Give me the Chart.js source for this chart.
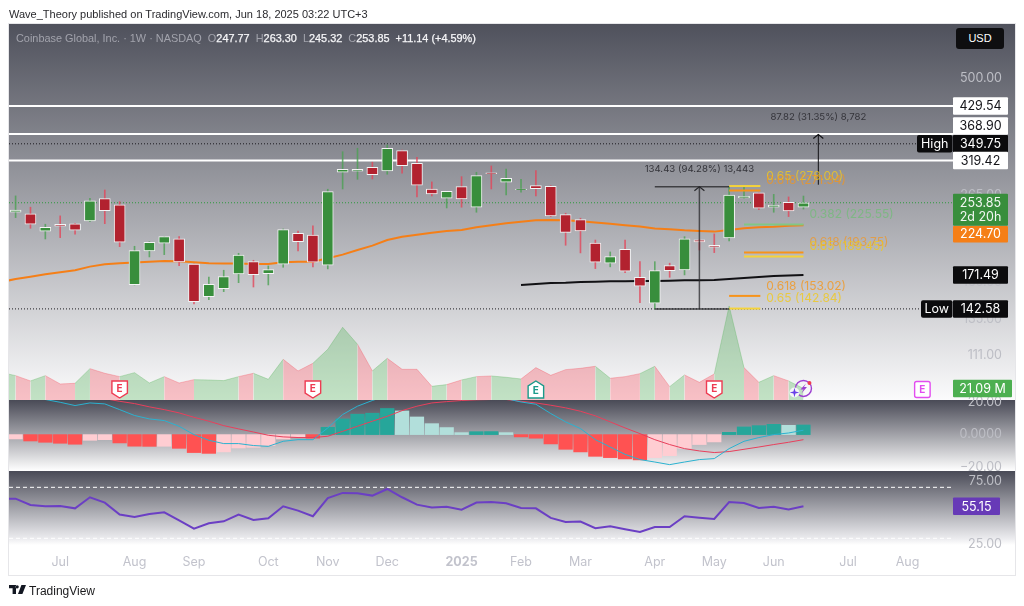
<!DOCTYPE html>
<html><head><meta charset="utf-8">
<script src="https://cdn.jsdelivr.net/npm/chart.js@4"></script>
<style>
html,body{margin:0;padding:0;background:#fff;width:1024px;height:606px;overflow:hidden;font-family:"Liberation Sans",Inter,sans-serif}
#c{position:absolute;left:0;top:0}
.t{position:absolute;white-space:pre}
#pub{left:9px;top:6px;font-size:11px;color:#2a2a2e;line-height:16px}
#legend{left:16px;top:30px;font-size:10.9px;line-height:16px;color:#a2a3ac}
#legend b{font-weight:400;color:#f6f6f8;-webkit-text-stroke:.25px #f6f6f8}
#usd{left:956px;top:28px;width:48px;height:21px;background:#0e0e10;color:#fff;border-radius:3px;font-size:11px;line-height:21px;text-align:center}
#brand{left:29px;top:583px;font-size:12px;color:#1a1a1c;line-height:16px}
#logo{position:absolute;left:9px;top:585px}
</style></head><body>
<canvas id="c" width="1024" height="606"></canvas>
<div class="t" id="pub">Wave_Theory published on TradingView.com, Jun 18, 2025 03:22 UTC+3</div>
<div class="t" id="legend">Coinbase Global, Inc. · 1W · NASDAQ  O<b>247.77</b>  H<b>263.30</b>  L<b>245.32</b>  C<b>253.85</b>  <b>+11.14 (+4.59%)</b></div>
<div class="t" id="usd">USD</div>
<svg id="logo" width="17" height="10" viewBox="0 0 17 10"><path d="M0 0h7v9H3.6V3.2H0zM8.2 3.4a1.6 1.6 0 1 0 0-3.2 1.6 1.6 0 0 0 0 3.2zM12.4 0H17l-3.6 9H9z" fill="#131722"/></svg>
<div class="t" id="brand">TradingView</div>
<script>
// Weekly candles
const candleOpen = [241.1,238.9,217.4,225.9,226.3,230,259.6,250.9,162.7,195.4,203.7,208.8,181.8,152.4,159.1,172.4,184.3,172.7,181.8,215,213.1,180.8,299.6,301.2,307.9,301.7,336.9,314.7,273.6,260.1,277.1,247.8,298.5,283.8,272.6,278.6,277.7,238,231.6,203.9,182.8,197.2,169.3,147.1,180.4,176.2,207.6,201.5,209.6,260.6,267.8,247.8,254.5,247.77];
const candleHigh = [263.5,247.8,225.9,236.4,227.1,260.1,272.1,255.4,200.4,205.4,211.1,211.1,181.8,169.6,175.9,192.9,185.7,180.1,220.1,217.7,223.8,273.2,335,341.4,316.4,347.6,338.2,325.1,284.3,270.2,292.6,299.6,310.1,305,288.4,302.2,278.6,239.8,233.4,207.3,194.3,207.3,184.3,184.3,182.8,211.1,208.1,214.3,277.7,277.7,267.8,265.7,262,263.3];
const candleLow = [234.2,221,208.5,210,213.9,229.1,226.6,200,162.4,189.1,191.5,180.4,146.5,149.9,156.6,164.4,160.6,162.4,178.8,195.4,179.1,177.2,273.6,288.4,288.9,296.4,298,262,263.5,246.8,247.8,241.1,273.6,264.9,268.8,263.5,235.5,201.5,193.3,177.5,179.2,173.7,147.5,142.58,169.3,171.5,196.4,193.6,206.2,260.1,244.5,241.1,235.5,245.32];
const candleClose = [244.1,225.9,222.2,223.5,218.6,256.7,243.2,204.8,195.7,204.8,211.1,184,148.3,163,169.9,190.9,171.8,176.5,219.3,205.5,183.7,269.7,304.5,304.5,295.8,341.4,310.6,279.2,266.3,270.2,259.1,294.2,297.4,290,273.6,274,236.4,216.2,217.7,183.7,189.5,175,161.3,175.5,175.5,208.8,205.1,199.3,264.7,262.9,246.4,250.5,242.8,253.85];
// Overlay series: first entry of each is the bar just before the visible range
const ema50 = [165,167.7,169.9,172.2,174,175.9,179.4,181.8,182.8,183.4,184.3,185,184.7,183.7,182.8,182.4,182.4,182.1,182.1,183.7,184.3,184.3,187.8,191.5,196.4,201.1,207.3,211.1,213.4,215.8,217.7,218.9,222.2,224.7,227.1,229.1,230.8,231.2,230.8,229.6,227.9,226.6,224.7,223.2,220.7,219.8,218.6,217.8,217,218.9,221,222.2,222.9,224.1,224.7];
const volumeM = [50.6,44.5,34.8,44.5,29.3,30.5,57.3,48.8,42.7,50,31.1,42.7,31.1,37.2,36.6,35.4,42.7,48.8,37.8,74.4,53.1,67.1,92.7,133,101.9,53.1,76.2,56.1,56.1,25,28.1,36.6,42.7,43.9,41.5,38.4,59.2,45.1,55.5,57.9,61.6,39.7,42.7,48.2,61.6,24.4,45.8,32.3,47.6,172,59.2,32.3,44.5,34.8,21.09];
const rsiValues = [60.85,61.1,56.2,55.1,55.4,53.5,62.2,58,48.6,46.7,49.1,50.4,44.1,37.6,41.8,43.3,48.6,44.4,45.7,55.1,51.7,47.3,61.6,65.6,65.3,63.5,68.7,62.2,56.4,54.1,54.8,52.5,58,58.5,57.5,53.8,53.5,46,42.8,43.1,37.9,39.4,37.1,35,38.9,38.9,47.3,46.2,45.2,58.5,57.7,53.8,54.8,52.7,55.15];
// 200-week average, drawn from bar 34 on
const ema200 = [162.4,163.3,164.2,164.4,165,165.3,165.7,165.8,165.9,165.9,166.2,166.5,166.6,166.8,167.7,168.6,169.6,170.5,171,171.49];
const ema200Start = 34;
const macdHist = [-2.66,-3.9,-4.7,-5.3,-5.9,-3.5,-3.1,-5.1,-7.1,-7.2,-7.15,-8.4,-11,-11.5,-10.6,-8.2,-7.8,-6.7,-2.7,-1.4,-2.2,4.5,9.6,12.5,13.1,16,14.5,10.8,6.7,4.3,1.2,1.8,1.85,1.2,-1.4,-2.2,-5.7,-9,-10.6,-13.3,-14.1,-14.9,-15.5,-14.1,-12.9,-8.4,-6.1,-4.5,1.4,4.7,5.5,6.3,5.7,5.9];
const macdLine = [26,24,21.5,19.8,17.8,19.4,18.8,15.3,11.7,9.6,8.6,5.1,0,-3.5,-5.5,-5.5,-6.7,-7.2,-4.1,-3.1,-3.1,4.1,12.3,17.4,20.9,24,27,28,29,29,28,28,27,22,20,18.6,12.9,7.8,3.7,-3.1,-7.6,-12.1,-15.3,-16.8,-18.4,-16.8,-15.3,-14.7,-8.6,-4.1,-1.8,0,1,2.7];
const macdSignal = [28,27,26,25,24,23,22,20.4,19,17,15.3,13.3,10.6,8.2,5.5,3.5,1.6,-0.4,-1.4,-1.8,-1.8,-1,2,5.1,8.2,11.2,14.7,17.4,19.4,20.2,20.9,21.3,21.5,21.5,20.4,19.4,18,16.4,14.3,11.5,7.8,4.1,0.6,-3.1,-6.1,-8.6,-10,-11,-10.4,-9,-7.6,-6.1,-4.7,-3.1];
// Axis ticks
const monthBars = [3,8,12,17,21,25,30,34,38,43,47,51,56,60];
const monthLabels = ['Jul','Aug','Sep','Oct','Nov','Dec','2025','Feb','Mar','Apr','May','Jun','Jul','Aug'];
const priceTicks = [500,265,165,135,111];
const macdTicks = [20,0,-20];
const rsiTicks = [75,25];
// Levels and drawings
const whiteLevels = [429.54,368.9,319.42];
const dottedLevels = [349.75,142.58];
const lastClose = 253.85;
const fibValues = [278,271.34,225.55,193.75,189.45,153.02,142.84];
const fibNames = ['0.65','0.618','0.382','0.618','0.65','0.618','0.65'];
const fibFrom = [48,48,49,49,49,48,48];
const fibTo = [50.1,50.1,53,53,53,50.1,50.1];
const rsiBands = [70,30];
const earningsBars = [7,20,35,47,61];

const GREEN='#388e3c', RED='#b2222f';
const FF='Inter,"Liberation Sans",sans-serif';
const up = candleClose.map((c,i)=>c>=candleOpen[i]);
const bars = candleClose.map((_,i)=>i);
const XMIN=-0.444, XMAX=66.02, XTAG=63.1;
const hline=(v,axis,o,from=XMIN,to=XTAG)=>Object.assign({type:'line',yAxisID:axis,data:[{x:from,y:v},{x:to,y:v}],pointRadius:0,borderWidth:1,tension:0},o);
const lineDS=(arr,start,axis,color,w,order)=>({type:'line',yAxisID:axis,data:arr.map((y,i)=>({x:i+start,y})),borderColor:color,borderWidth:w,pointRadius:0,tension:0,order});
const fibColor=['#f5d33a','#f7931a','#81c784','#f7931a','#f5d33a','#f7931a','#f5d33a'];
const fibText=['rgba(240,200,30,.8)','rgba(243,150,30,.75)','rgba(110,190,115,.7)','rgba(243,150,30,.7)','rgba(240,200,30,.8)','rgba(243,150,30,.8)','rgba(240,200,30,.8)'];

const datasets=[
 Object.assign(lineDS(volumeM,-1,'vol','rgba(0,0,0,0)',1,90),{fill:'origin',
   backgroundColor:'rgba(76,175,80,.3)',
   segment:{backgroundColor:c=>up[c.p1DataIndex-1]===false?'rgba(244,67,84,.32)':'rgba(76,175,80,.32)',
            borderColor:c=>up[c.p1DataIndex-1]===false?'rgba(244,67,84,.3)':'rgba(76,175,80,.3)'}}),
 ...whiteLevels.map(v=>hline(v,'price',{borderColor:'#ffffff',borderWidth:2,order:80})),
 ...dottedLevels.map((v,i)=>hline(v,'price',{borderColor:'#1b1b1f',borderDash:[1,2],order:79},XMIN,i?61:60.7)),
 hline(lastClose,'price',{borderColor:'#2e9a3c',borderDash:[1,2],order:78}),
 lineDS(ema50,-1,'price','#f57f17',2,60),
 lineDS(ema200,ema200Start,'price','#111114',2,60),
 {type:'bar',yAxisID:'price',order:50,grouped:false,barThickness:1,borderWidth:0,
  data:bars.map(i=>({x:i,y:[candleLow[i],candleHigh[i]]})),
  backgroundColor:bars.map(i=>up[i]?'rgba(76,160,84,.8)':'rgba(226,70,90,.8)')},
 {type:'bar',yAxisID:'price',order:49,grouped:false,barThickness:11,borderWidth:1,borderSkipped:false,borderColor:'#f4f4f5',
  data:bars.map(i=>({x:i,y:[candleOpen[i],candleClose[i]]})),
  backgroundColor:bars.map(i=>up[i]?GREEN:RED)},
 ...fibValues.map((v,i)=>hline(v,'price',{borderColor:fibColor[i],borderWidth:2,order:48},fibFrom[i],fibTo[i])),
 hline(277.01,'price',{borderColor:'rgba(40,40,44,.8)',borderWidth:1.5,order:47},43,48),
 hline(142.58,'price',{borderColor:'rgba(40,40,44,.85)',borderWidth:1.5,order:47},43,48),
 {type:'line',yAxisID:'price',order:47,data:[{x:46,y:142.58},{x:46,y:277.01}],borderColor:'rgba(40,40,44,.75)',borderWidth:1.5,pointRadius:0},
 {type:'line',yAxisID:'price',order:47,data:[{x:54,y:280},{x:54,y:367.82}],borderColor:'#111114',borderWidth:1,pointRadius:0},
 {type:'bar',yAxisID:'macd',order:30,grouped:false,barThickness:13.6,borderWidth:0,
  data:bars.map(i=>({x:i,y:macdHist[i]})),
  backgroundColor:bars.map(i=>{const v=macdHist[i],p=i?macdHist[i-1]:null;
    if(v>=0) return p!==null&&v>=p?'#26a69a':'#b2dfdb';
    return p!==null&&v<=p?'#ff5252':'#ffcdd2';})},
 lineDS(macdSignal,0,'macd','#e8405c',1,29),
 lineDS(macdLine,0,'macd','#2bb2d0',1,28),
 ...rsiBands.map(v=>hline(v,'rsi',{borderColor:'#ffffff',borderDash:[4,3],order:20})),
 lineDS(rsiValues,-1,'rsi','#6b3fc4',2,19)
];

const fmt=(v,d)=>Number(v).toFixed(d);
const tickFont={family:FF,size:12.5};
const tickColor='#bdbec5';
function fixedTicks(vals){return s=>{s.ticks=vals.map(value=>({value}));};}

const drawings={
 id:'drawings',
 beforeDraw(ch){
  const g=ch.ctx,{price,macd,rsi,x}=ch.scales;
  const L=9,R=1015;
  const band=(top,bot,stops)=>{const l=g.createLinearGradient(0,top,0,bot);stops.forEach(([p,c])=>l.addColorStop(p,c));g.fillStyle=l;g.fillRect(L,top,R-L,bot-top);};
  band(price.top,price.bottom,[[0,'#4f515c'],[1,'#fbfbfc']]);
  band(macd.top,macd.bottom,[[0,'#494a56'],[1,'#ffffff']]);
  band(rsi.top,rsi.bottom,[[0,'#494a56'],[.92,'#ededf0'],[1,'#ffffff']]);
  g.strokeStyle='#e6e6e9';g.lineWidth=1;g.strokeRect(L-.5,price.top-.5,R-L+1,x.bottom-price.top+1);
 },
 afterDraw(ch){
  const g=ch.ctx,{price,vol,x}=ch.scales;
  g.save();
  // Fibonacci captions
  g.font='12px '+FF;g.textBaseline='middle';g.textAlign='left';
  fibValues.forEach((v,i)=>{g.fillStyle=fibText[i];
    g.fillText(fibNames[i]+' ('+fmt(v,2)+')',x.getPixelForValue(fibTo[i])+6,price.getPixelForValue(v)-10);});
  // Measure captions
  g.font='9.6px '+FF;g.fillStyle='#34343a';g.textAlign='center';
  g.fillText('134.43 (94.28%) 13,443',x.getPixelForValue(46),price.getPixelForValue(277.01)-18);
  g.fillText('87.82 (31.35%) 8,782',x.getPixelForValue(54),price.getPixelForValue(367.82)-17);
  // Arrowheads
  const head=(bar,val,col)=>{const px=x.getPixelForValue(bar),py=price.getPixelForValue(val);
    g.strokeStyle=col;g.lineWidth=1.2;g.beginPath();g.moveTo(px-5,py+4);g.lineTo(px,py);g.lineTo(px+5,py+4);g.stroke();};
  head(46,277.01,'#28282c');head(54,367.82,'#111114');
  // Earnings badges
  const badge=(bar,kind,col)=>{const cx=x.getPixelForValue(bar),t=vol.getPixelForValue(10)-13.5,h=17,w=15.5,l=cx-w/2,r=cx+w/2;
    g.beginPath();
    if(kind==='down'){g.moveTo(l,t);g.lineTo(r,t);g.lineTo(r,t+h-5);g.lineTo(cx,t+h);g.lineTo(l,t+h-5);}
    else if(kind==='up'){g.moveTo(cx,t);g.lineTo(r,t+5);g.lineTo(r,t+h);g.lineTo(l,t+h);g.lineTo(l,t+5);}
    else{g.roundRect(l,t+.5,w,h-1,2);}
    g.closePath();g.fillStyle='#fff';g.fill();g.strokeStyle=col;g.lineWidth=1.4;g.stroke();
    g.fillStyle=col;g.font='bold 10px '+FF;g.textAlign='center';g.textBaseline='middle';g.fillText('E',cx,t+h/2+(kind==='down'?-1:kind==='up'?1.5:.5));};
  earningsBars.forEach((b,i)=>badge(b,i===2?'up':i===4?'sq':'down',i===2?'#1a9a8a':i===4?'#e24df0':'#ee3b52'));
  // Bolt icon at the last bar
  const bx=x.getPixelForValue(53),by=vol.getPixelForValue(21.09);
  g.strokeStyle='#9c3fd0';g.lineWidth=1.4;g.beginPath();g.arc(bx,by,8,0,Math.PI*2);g.stroke();
  g.fillStyle='#9c3fd0';g.beginPath();g.moveTo(bx+2.5,by-5);g.lineTo(bx-3,by+1);g.lineTo(bx,by+1);g.lineTo(bx-2,by+5);g.lineTo(bx+3.5,by-1.5);g.lineTo(bx+.5,by-1.5);g.closePath();g.fill();
  g.fillStyle='#f5f5f7';g.beginPath();g.arc(bx-9,by+4,5,0,7);g.fill();
  g.fillStyle='#6a40e8';g.beginPath();const sx=bx-9,sy=by+4;
  for(let a=0;a<8;a++){const r=a%2?1.4:4.8,t=a*Math.PI/4;g.lineTo(sx+r*Math.sin(t),sy-r*Math.cos(t));}g.closePath();g.fill();
  g.fillStyle='#ef3b4f';g.beginPath();g.arc(bx+6,by-5.5,2,0,7);g.fill();
  // Price tags on the right
  const tag=(text,val,scale,bg,fg,o={})=>{const dy=o.dy||0,l=o.l||953,r=o.r||1008,h=o.h||17.5;
    const cy=scale.getPixelForValue(val)+dy;
    g.fillStyle=bg;g.beginPath();g.roundRect(l,cy-h/2,r-l,h,o.rad===undefined?1:o.rad);g.fill();
    g.fillStyle=fg;g.font='12.5px '+FF;g.textAlign='center';g.textBaseline='middle';g.fillText(text,(l+r)/2,cy+.5);};
  tag('429.54',429.54,price,'#ffffff','#131318');
  tag('368.90',368.9,price,'#ffffff','#131318',{dy:-8});
  tag('349.75',349.75,price,'#0b0b0d','#ffffff');
  tag('High',349.75,price,'#0b0b0d','#ffffff',{l:917,r:952.5,rad:2});
  tag('319.42',319.42,price,'#ffffff','#131318');
  // last price tag with countdown
  const cy=price.getPixelForValue(253.85);
  g.fillStyle='#388e3c';g.beginPath();g.roundRect(953,cy-9,55,32,1);g.fill();
  g.fillStyle='#f2f7f2';g.font='12.5px '+FF;g.textAlign='center';g.fillText('253.85',980.5,cy+.5);g.fillText('2d 20h',980.5,cy+14.5);
  tag('224.70',224.7,price,'#f57f17','#ffffff',{dy:9,h:16.5});
  tag('171.49',171.49,price,'#0b0b0d','#ffffff');
  tag('142.58',142.58,price,'#0b0b0d','#ffffff');
  tag('Low',142.58,price,'#0b0b0d','#ffffff',{l:921,r:952.5,rad:2});
  tag('21.09 M',21.09,vol,'#4caf50','#ffffff',{r:1012,dy:0,h:17.5});
  tag('55.15',55.15,ch.scales.rsi,'#673ab7','#ffffff',{r:1000,h:17.5});
  g.restore();
 }
};

new Chart(document.getElementById('c'),{
 type:'bar',
 data:{datasets},
 plugins:[drawings],
 options:{
  responsive:false,animation:false,events:[],devicePixelRatio:1,
  layout:{padding:{left:9,right:9,top:24,bottom:31}},
  plugins:{legend:{display:false},tooltip:{enabled:false},title:{display:false}},
  scales:{
   x:{type:'linear',offset:false,position:'bottom',min:XMIN,max:XMAX,grid:{display:false,offset:false},border:{display:false},
      afterFit(s){s.height=30;},
      afterBuildTicks(s){s.ticks=monthBars.map(value=>({value}));},
      ticks:{autoSkip:false,maxRotation:0,padding:2,color:'#c2c3cc',
             font:c=>({family:FF,size:12.5,weight:c.tick&&c.tick.value===30?'700':'400'}),
             callback:v=>monthLabels[monthBars.indexOf(v)]}},
   price:{type:'logarithmic',position:'right',stack:'panes',stackWeight:376,weight:1,min:86.9,max:670.7,
      grid:{display:false},border:{display:false},
      afterBuildTicks:fixedTicks(priceTicks),
      ticks:{mirror:true,autoSkip:false,padding:5,color:tickColor,font:tickFont,callback:v=>fmt(v,2)}},
   macd:{type:'linear',position:'right',stack:'panes',stackWeight:71,weight:2,min:-22.3,max:21.2,
      grid:{display:false},border:{display:false},
      afterBuildTicks:fixedTicks(macdTicks),
      ticks:{mirror:true,autoSkip:false,padding:5,color:tickColor,font:tickFont,callback:v=>v===0?'0.0000':fmt(v,2).replace('-','\u2212')}},
   rsi:{type:'linear',position:'right',stack:'panes',stackWeight:74,weight:3,min:24.75,max:82.8,
      grid:{display:false},border:{display:false},
      afterBuildTicks:fixedTicks(rsiTicks),
      ticks:{mirror:true,autoSkip:false,padding:5,color:tickColor,font:tickFont,callback:v=>fmt(v,2)}},
   vol:{type:'linear',position:'right',display:false,min:-265.4,max:688}
  }
 }
});
</script>
</body></html>
